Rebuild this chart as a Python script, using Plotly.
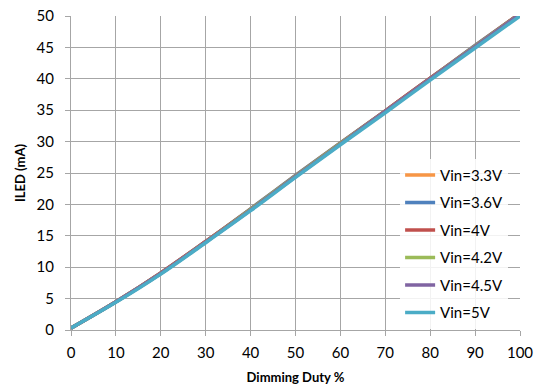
import plotly.graph_objects as go

duty = [0, 10, 20, 30, 40, 50, 60, 70, 80, 90, 100]
vin_33 = [0.3, 4.5, 9.1, 14.1, 19.3, 24.6, 29.8, 34.9, 40.1, 45.3, 50.4]
vin_36 = [0.3, 4.5, 9.1, 14.1, 19.3, 24.6, 29.8, 34.9, 40.1, 45.3, 50.4]
vin_4 = [0.3, 4.5, 9.1, 14.1, 19.2, 24.5, 29.7, 34.9, 40.1, 45.2, 50.4]
vin_42 = [0.3, 4.5, 9.0, 14.0, 19.2, 24.5, 29.7, 34.8, 40.0, 45.2, 50.3]
vin_45 = [0.3, 4.5, 9.0, 14.0, 19.1, 24.4, 29.6, 34.8, 40.0, 45.1, 50.3]
vin_5 = [0.3, 4.4, 8.9, 13.9, 19.0, 24.3, 29.5, 34.6, 39.8, 44.9, 50.0]

series = [
    ("Vin=3.3V", vin_33, "#F79646"),
    ("Vin=3.6V", vin_36, "#4F81BD"),
    ("Vin=4V", vin_4, "#C0504D"),
    ("Vin=4.2V", vin_42, "#9BBB59"),
    ("Vin=4.5V", vin_45, "#8064A2"),
    ("Vin=5V", vin_5, "#4BACC6"),
]

fig = go.Figure()
for i, (name, vals, col) in enumerate(series):
    fig.add_trace(go.Scatter(
        x=duty, y=vals, name=name, mode="lines",
        line=dict(color=col, width=3.5, shape="spline", smoothing=1.0),
        legendgroup=f"g{i}",
    ))

font = "Lato, 'Liberation Sans', sans-serif"
fig.update_layout(
    width=542, height=389,
    margin=dict(l=71, r=22, t=16, b=59, autoexpand=False),
    paper_bgcolor="white", plot_bgcolor="white",
    font=dict(family=font, size=15, color="#000000"),
    showlegend=True,
    legend=dict(
        x=0.733, y=0.545, xanchor="left", yanchor="top",
        bgcolor="rgba(255,255,255,0.85)",
        font=dict(family=font, size=15, color="#000000"),
        tracegroupgap=5,
        itemwidth=30,
    ),
    xaxis=dict(
        range=[0, 100], dtick=10, tick0=0,
        showgrid=True, gridcolor="#A6A6A6", gridwidth=1,
        showline=True, linecolor="#A6A6A6", linewidth=1,
        ticks="outside", ticklen=5, tickcolor="#A6A6A6",
        ticklabelstandoff=4, ticklabeloverflow="allow",
        zeroline=False, mirror=False, automargin=False,
        title=dict(text="<b>Dimming Duty %</b>", font=dict(family=font, size=13), standoff=12),
        tickfont=dict(family=font, size=15),
    ),
    yaxis=dict(
        range=[0, 50], dtick=5, tick0=0,
        showgrid=True, gridcolor="#A6A6A6", gridwidth=1,
        showline=True, linecolor="#A6A6A6", linewidth=1,
        ticks="outside", ticklen=5, tickcolor="#A6A6A6",
        ticklabelstandoff=8, ticklabeloverflow="allow",
        zeroline=False, automargin=False,
        title=dict(text="<b>ILED (mA)</b>", font=dict(family=font, size=13), standoff=8),
        tickfont=dict(family=font, size=15),
    ),
)

fig.write_html("out.html", config={"displayModeBar": False},
               post_script="document.body.style.margin='0';")
